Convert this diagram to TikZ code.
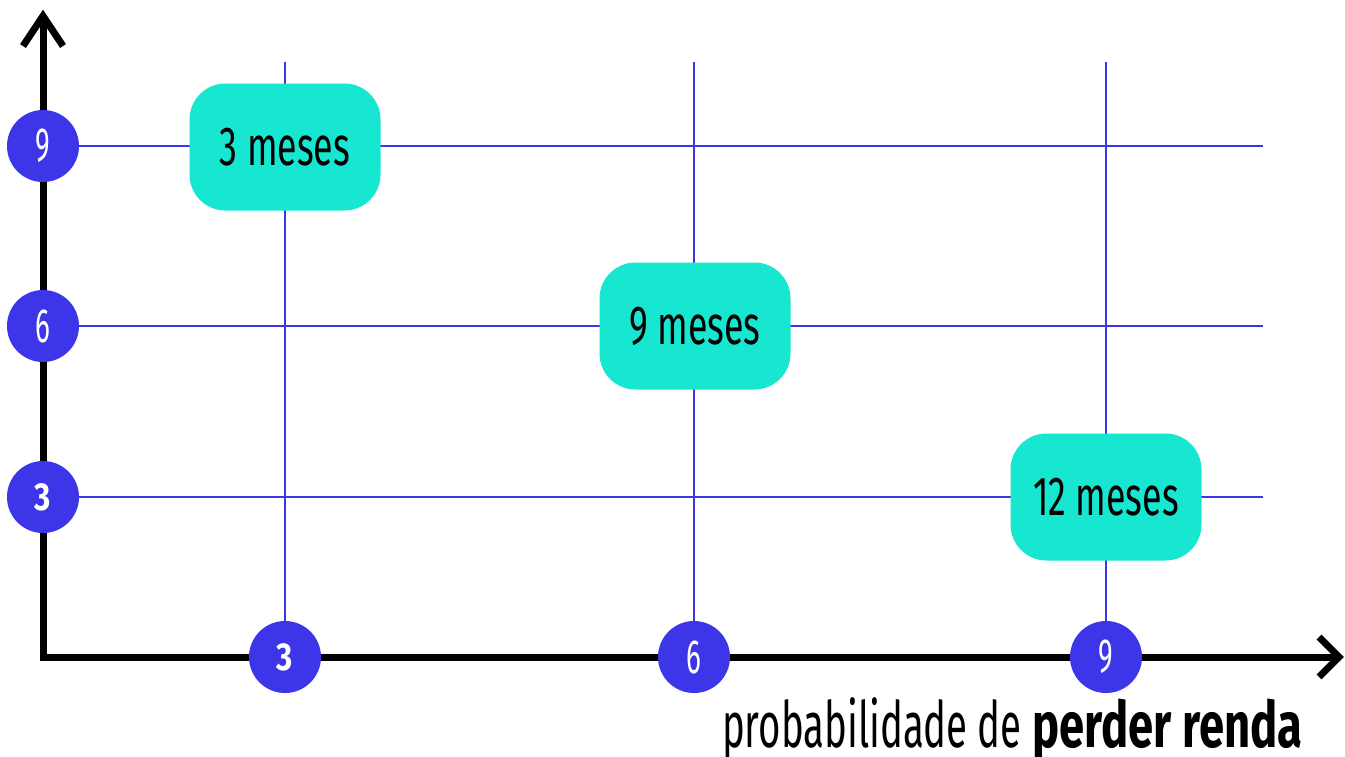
\documentclass[tikz,border=0pt]{standalone}
\usepackage{fontspec}
\setmainfont[FakeStretch=0.65]{Fira Sans}
\newfontfamily\lightc[FakeStretch=0.6]{Fira Sans}
\newfontfamily\wideb[FakeStretch=0.71]{Fira Sans}
\newfontfamily\numb[FakeStretch=0.8]{Fira Sans}
\newfontfamily\numl[FakeStretch=0.58]{Fira Sans}
\definecolor{gridblue}{HTML}{3D35E8}
\definecolor{teal}{HTML}{17E6D0}
\tikzset{
  axisline/.style={line width=7pt, black},
  chevron/.style={line width=7pt, black, miter limit=10},
  gridline/.style={line width=2pt, gridblue},
  circ/.style={circle, fill=gridblue, text=white, minimum size=72pt, inner sep=0pt, font=\numl\fontsize{48}{50}\selectfont},
  boldnum/.style={font=\numb\fontsize{39}{42}\selectfont\bfseries},
  box/.style={fill=teal, rounded corners=36pt, minimum width=191pt, minimum height=127pt, inner sep=0pt, font=\fontsize{55}{60}\selectfont},
}
\begin{document}
\begin{tikzpicture}[x=1pt,y=-1pt]
\useasboundingbox (0,0) rectangle (1345,756);
% coordinates
\coordinate (O) at (43,657);
\coordinate (ytop) at (43,16);
\coordinate (xend) at (1339,657);
\coordinate (v3t) at (285,62);
\coordinate (v6t) at (694,62);
\coordinate (v9t) at (1106,62);
\coordinate (v3b) at (285,657);
\coordinate (v6b) at (694,657);
\coordinate (v9b) at (1106,657);
\coordinate (h9l) at (43,146);
\coordinate (h6l) at (43,326);
\coordinate (h3l) at (43,497);
\coordinate (h9r) at (1263,146);
\coordinate (h6r) at (1263,326);
\coordinate (h3r) at (1263,497);
% grid
\draw[gridline] (v3t) -- (v3b);
\draw[gridline] (v6t) -- (v6b);
\draw[gridline] (v9t) -- (v9b);
\draw[gridline] (h9l) -- (h9r);
\draw[gridline] (h6l) -- (h6r);
\draw[gridline] (h3l) -- (h3r);
% axes
\draw[axisline] (ytop) -- (O) -- (xend);
\coordinate (ya1) at (23,46);
\coordinate (ya2) at (63,46);
\draw[chevron] (ya1) -- (ytop) -- (ya2);
\coordinate (xa1) at (1319,637);
\coordinate (xa2) at (1319,677);
\draw[chevron] (xa1) -- (xend) -- (xa2);
% axis circles
\node[circ] (y9) at (43,146) {9};
\node[circ] (y6) at (43,326) {6};
\node[circ, boldnum] (y3) at (43,497) {3};
\node[circ, boldnum] (x3) at (285,657) {3};
\node[circ] (x6) at (694,657) {6};
\node[circ] (x9) at (1106,657) {9};
% boxes
\node[box] (b3) at (285,147) {3 meses};
\node[box] (b9) at (695,326) {9 meses};
\node[box] (b12) at (1106,497) {12 meses};
% axis label
\node[anchor=base east, inner sep=0pt, font=\fontsize{64}{66}\selectfont] (xlabel) at (1303,747) {\lightc probabilidade de {\wideb\bfseries perder renda}};
\end{tikzpicture}
\end{document}
